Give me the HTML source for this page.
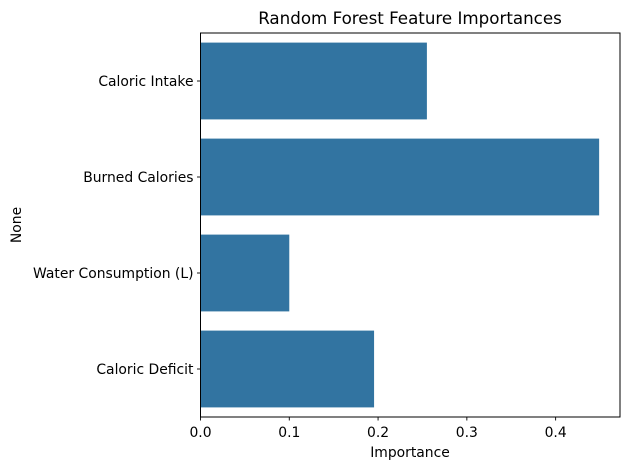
<!DOCTYPE html>
<html><head><meta charset="utf-8"><style>
body{margin:0;background:#fff;}
svg{font-family:"DejaVu Sans","Liberation Sans",sans-serif;}
</style></head><body>
<svg id="chart" width="629" height="470" xmlns="http://www.w3.org/2000/svg">
<text x="410" y="24" font-size="16.7" text-anchor="middle">Random Forest Feature Importances</text>
<text x="410" y="457" font-size="13.9" text-anchor="middle">Importance</text>
<text x="21" y="225" font-size="13.9" text-anchor="middle" transform="rotate(-90 21 225)">None</text>
<g id="bars"></g>
<g id="axes"></g>
</svg>
<script>
const categories = ["Caloric Intake","Burned Calories","Water Consumption (L)","Caloric Deficit"];
const importances = [0.255, 0.449, 0.100, 0.1955];
const xTicks = [0.0, 0.1, 0.2, 0.3, 0.4];
const xTickLabels = ["0.0","0.1","0.2","0.3","0.4"];

const L=200.5, R=620, T=33, B=417;
const xMax=0.4725;
const xs = v => L + v/xMax*(R-L);
const band=(B-T)/categories.length;
const yc = i => T + band*(i+0.5);
const NS="http://www.w3.org/2000/svg";
const bars=document.getElementById('bars'), axes=document.getElementById('axes');
function mk(tag,attrs,parent){const e=document.createElementNS(NS,tag);for(const k in attrs)e.setAttribute(k,attrs[k]);parent.appendChild(e);return e;}
categories.forEach((c,i)=>{
  const h=band*0.8;
  const r=mk('rect',{x:xs(0),y:yc(i)-h/2,width:xs(importances[i])-xs(0),height:h,fill:'#3274a1'},bars);
  
  
  const tk=mk('line',{x1:L-3.5,x2:L,y1:yc(i),y2:yc(i),stroke:'#000','stroke-width':0.9},axes);
  
  
  const t=mk('text',{x:L-7,y:yc(i)+5,'font-size':13.9,'text-anchor':'end'},axes);
  t.textContent=c;
  
  
});
xTicks.forEach((v,i)=>{
  const tk=mk('line',{x1:xs(v),x2:xs(v),y1:B,y2:B+3.5,stroke:'#000','stroke-width':0.9},axes);
  
  
  const t=mk('text',{x:xs(v),y:B+20,'font-size':13.9,'text-anchor':'middle'},axes);
  t.textContent=xTickLabels[i];
  
  
});
const frame=mk('rect',{x:L,y:T,width:R-L,height:B-T,fill:'none',stroke:'#000','stroke-width':1},axes);


</script>
</body></html>
